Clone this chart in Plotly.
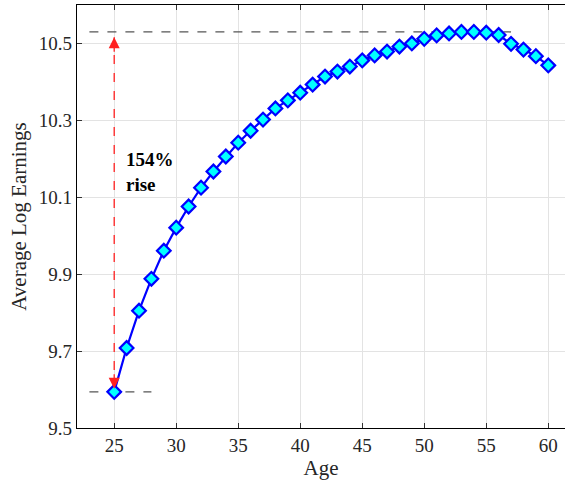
import plotly.graph_objects as go

ages = list(range(25, 61))
log_earnings = [9.594, 9.708, 9.805, 9.888, 9.961, 10.021, 10.076, 10.125, 10.167, 10.206,
                10.242, 10.273, 10.302, 10.331, 10.352, 10.372, 10.393, 10.414, 10.427, 10.440,
                10.456, 10.469, 10.479, 10.492, 10.500, 10.512, 10.521, 10.526, 10.530, 10.530,
                10.528, 10.522, 10.499, 10.484, 10.467, 10.443]
y_ticks = [9.5, 9.7, 9.9, 10.1, 10.3, 10.5]
x_ticks = [25, 30, 35, 40, 45, 50, 55, 60]
annot_text = "154%<br>rise"

ymin = min(log_earnings)
ymax = max(log_earnings)
serif = "Liberation Serif, Times New Roman, serif"

fig = go.Figure()
fig.add_trace(go.Scatter(x=[23, 57], y=[ymax, ymax], mode="lines",
                         line=dict(color="#555555", width=1.3, dash="dash"), hoverinfo="skip", showlegend=False))
fig.add_trace(go.Scatter(x=[23, 28], y=[ymin, ymin], mode="lines",
                         line=dict(color="#555555", width=1.3, dash="dash"), hoverinfo="skip", showlegend=False))
fig.add_trace(go.Scatter(x=[25, 25], y=[ymin + 0.01, ymax - 0.014], mode="lines",
                         line=dict(color="#ff2020", width=1.3, dash="dash"), hoverinfo="skip", showlegend=False))
fig.add_trace(go.Scatter(x=ages, y=log_earnings, mode="lines+markers",
                         line=dict(color="#0000ff", width=2.2),
                         marker=dict(symbol="diamond", size=10.5, color="#00ffff",
                                     line=dict(color="#0000ff", width=2.2)),
                         showlegend=False))

fig.add_annotation(x=25, y=ymax - 0.014, ax=0, ay=16, xref="x", yref="y", axref="pixel", ayref="pixel",
                   showarrow=True, arrowhead=2, arrowsize=1.7, arrowwidth=1.3, arrowcolor="#ff2020", text="")
fig.add_annotation(x=25, y=ymin + 0.008, ax=0, ay=-16, xref="x", yref="y", axref="pixel", ayref="pixel",
                   showarrow=True, arrowhead=2, arrowsize=1.7, arrowwidth=1.3, arrowcolor="#ff2020", text="")
fig.add_annotation(x=25.75, y=10.167, text="<b>" + annot_text + "</b>", showarrow=False,
                   xanchor="left", yanchor="middle", align="left",
                   font=dict(family=serif, size=19, color="black"))

axis_common = dict(showline=True, linecolor="black", linewidth=1.2, ticks="inside", ticklen=5,
                   tickcolor="#333333", showgrid=True, gridcolor="#e3e3e3", gridwidth=1,
                   zeroline=False, automargin=False,
                   tickfont=dict(family=serif, size=19, color="#262626"))

fig.update_xaxes(range=[22, 61.35], tickvals=x_ticks, mirror="ticks",
                 title=dict(text="Age", font=dict(family=serif, size=21, color="#262626"), standoff=2),
                 **axis_common)
fig.update_yaxes(range=[9.5, 10.6], tickvals=y_ticks, ticktext=[f"{v:.1f}" for v in y_ticks],
                 title=dict(text="Average Log Earnings", font=dict(family=serif, size=21, color="#262626"), standoff=6),
                 **axis_common)

fig.update_layout(width=565, height=485, margin=dict(l=77, r=0, t=5, b=57),
                  plot_bgcolor="white", paper_bgcolor="white")

fig.write_html("out.html", config={"displayModeBar": False},
               post_script="document.body.style.margin='0';document.body.style.overflow='hidden';")
